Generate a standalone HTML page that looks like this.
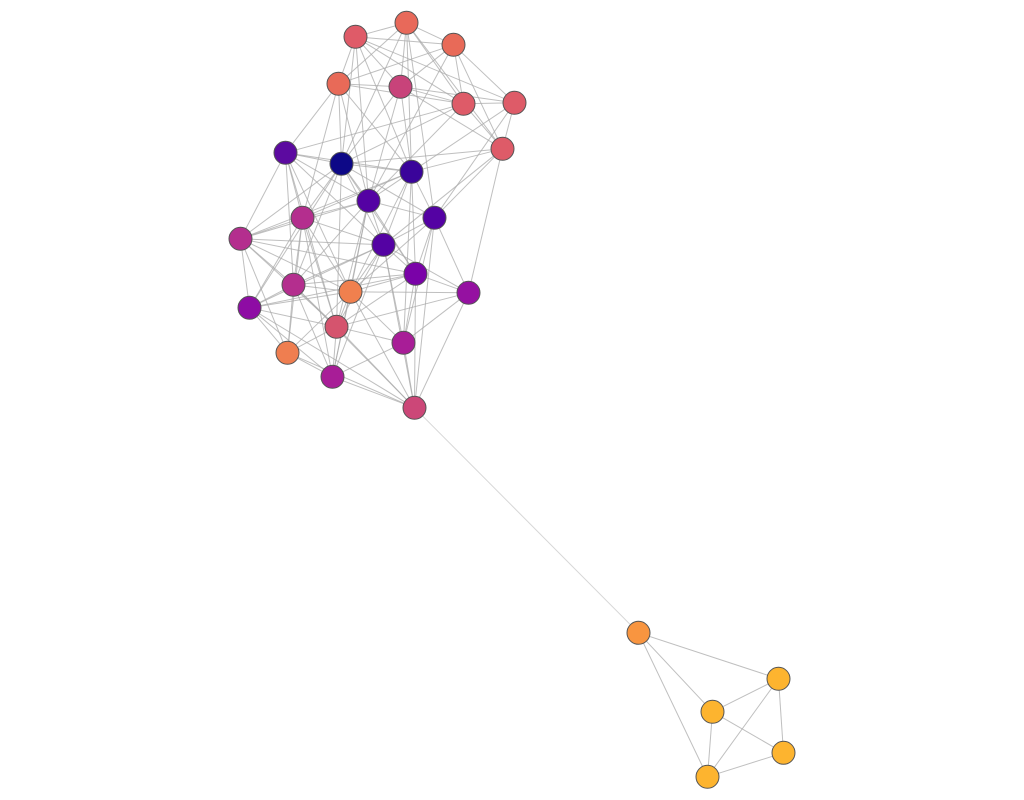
<!DOCTYPE html>
<html><head><meta charset="utf-8"><style>html,body{margin:0;padding:0;background:#fff;width:1024px;height:800px;overflow:hidden}</style></head>
<body>
<svg id="chart" width="1024" height="800" xmlns="http://www.w3.org/2000/svg">
<g transform="translate(0.5,0.8)">
<g id="edges"></g>
<g id="nodes"></g>
</g>
</svg>
<script>
const nodeX=[355,406,453,338,400,463,514,502,285,341,411,368,434,302,240,383,415,468,293,350,249,336,403,287,332,414,638,778,712,783,707];
const nodeY=[36,22,44,83,86,103,102,148,152,163,171,200,217,217,238,244,273,292,284,291,307,326,342,352,376,407,632,678,711,752,776];
const nodeColor=["#df5b68","#e8695a","#e86a58","#e86a58","#c8437a","#de5b68","#de5b68","#de5b68","#5c0aa0","#0d0887","#3a049a","#5402a3","#5402a3","#b42e8e","#b42e8e","#5402a3","#7a02a8","#9511a1","#b42e8e","#f0804e","#8e0ca4","#d5546e","#a81d97","#ef7e50","#a81d97","#cc4778","#f89540","#fdb42f","#fdb42f","#fdb42f","#fdb42f"];
const adj={1:[2,3,4,5,6,7,10,11,12],2:[3,4,5,6,8,10,11,13],3:[4,5,6,7,8,12],4:[5,6,9,10,11,12,14],5:[6,7,8,10,11,12],6:[7,8,9,10,12],7:[8,11,13],8:[10,11,13,18,16],9:[10,11,12,14,15,16,19,20,22],10:[11,12,13,14,15,16,17,19,21,22],11:[12,13,14,15,16,17,20,23],12:[13,14,15,16,17,19,20,22,25],13:[16,17,18,20,23,26],14:[15,16,19,20,21,22,24,25],15:[16,17,19,20,21,22,24],16:[17,18,19,20,21,22,23,25,26],17:[18,19,20,21,22,23,26],18:[20,22,23,26],19:[20,21,22,24,25,26],20:[21,22,23,24,25,26],21:[22,24,25,26],22:[23,24,25,26],23:[25,26],24:[25,26],25:[26],27:[28,29,31],28:[29,30,31],29:[30,31],30:[31]};
const bridge=[[26,27]];
const NS="http://www.w3.org/2000/svg";
const eg=document.getElementById('edges'),ng=document.getElementById('nodes');
function line(a,b,col,op){
  const l=document.createElementNS(NS,'line');
  l.setAttribute('x1',nodeX[a-1]);l.setAttribute('y1',nodeY[a-1]);
  l.setAttribute('x2',nodeX[b-1]);l.setAttribute('y2',nodeY[b-1]);
  l.setAttribute('stroke',col);l.setAttribute('stroke-width','1');l.setAttribute('stroke-opacity',op);
  
  
  eg.appendChild(l);
}
for(const k in adj){for(const b of adj[k]) line(+k,b,'#aaa',0.75);}
for(const [a,b] of bridge) line(a,b,'#ccc',0.8);
for(let i=0;i<nodeX.length;i++){
  const c=document.createElementNS(NS,'circle');
  c.setAttribute('cx',nodeX[i]);c.setAttribute('cy',nodeY[i]);c.setAttribute('r',11.5);
  c.setAttribute('fill',nodeColor[i]);c.setAttribute('stroke','#555');c.setAttribute('stroke-width','1');
  
  
  ng.appendChild(c);
}
</script>
</body></html>
